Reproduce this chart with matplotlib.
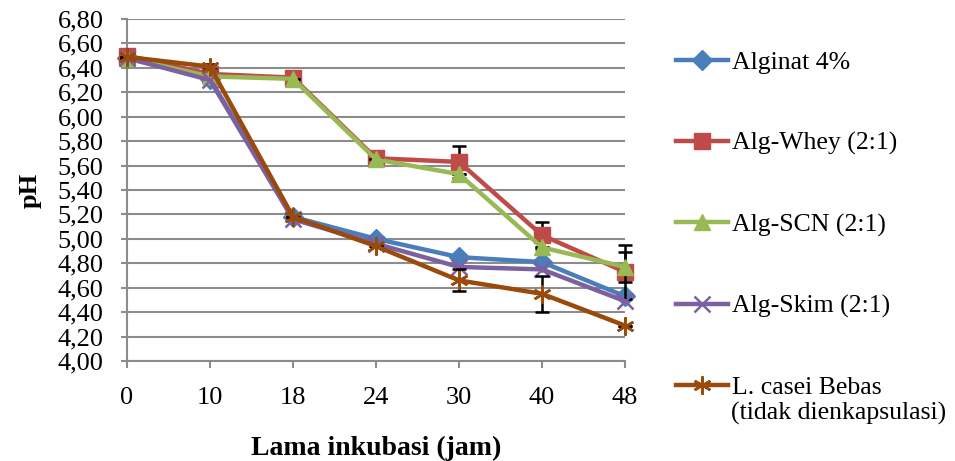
"""
pH selama inkubasi untuk L. casei terenkapsulasi dan bebas.
Output: out.png
"""

import matplotlib.pyplot as plt
import numpy as np

# Data
waktu = ["0", "10", "18", "24", "30", "40", "48"]

alginat = [6.48, 6.31, 5.18, 5.00, 4.85, 4.81, 4.53]
alg_whey = [6.50, 6.35, 6.32, 5.66, 5.63, 5.03, 4.73]
alg_scn = [6.48, 6.33, 6.31, 5.65, 5.53, 4.93, 4.77]
alg_skim = [6.48, 6.30, 5.16, 4.96, 4.77, 4.75, 4.49]
casei_bebas = [6.49, 6.41, 5.18, 4.94, 4.66, 4.55, 4.29]

err_whey = [0, 0, 0, 0, 0.13, 0.11, 0.22]
err_scn = [0, 0, 0, 0, 0, 0, 0.12]
err_bebas = [0, 0.02, 0, 0, 0.09, 0.15, 0]

labels = ["Alginat 4%", "Alg-Whey (2:1)", "Alg-SCN (2:1)", "Alg-Skim (2:1)",
          "L. casei Bebas"]
label_extra = "(tidak dienkapsulasi)"

COLORS = ["#4A7EBB", "#BE4B48", "#98B954", "#7D60A0", "#9A4A0B"]
MARKERS = ["D", "s", "^", "x", (6, 2, 0)]
MSIZE = [10, 11, 11, 11, 13]

FS = 19
plt.rcParams["font.family"] = ["Liberation Serif", "DejaVu Serif"]

fig = plt.figure(figsize=(9.55, 4.61), dpi=100)
ax = fig.add_axes([127 / 955, 1 - 361 / 461, (625 - 127) / 955, (361 - 19) / 461])

x = np.arange(len(waktu))
series = [alginat, alg_whey, alg_scn, alg_skim, casei_bebas]
errors = [None, err_whey, err_scn, None, err_bebas]

for i, y in enumerate(series):
    if errors[i] is not None:
        ax.errorbar(x, y, yerr=errors[i], fmt="none", ecolor="black",
                    elinewidth=1.8, capsize=5, capthick=1.8, zorder=2 + i,
                    clip_on=False)
    mew = 1.8 if i >= 3 else 1
    ax.plot(x, y, color=COLORS[i], lw=3.2, marker=MARKERS[i],
            markersize=MSIZE[i], markeredgewidth=mew,
            markeredgecolor=COLORS[i], label=labels[i], zorder=3 + i,
            clip_on=False)

# Axes
ax.set_xlim(0, 6)
ax.set_ylim(4.0, 6.8)
ax.set_xticks(x)
ax.set_xticklabels(waktu, fontsize=FS)
yt = np.arange(4.0, 6.81, 0.2)
ax.set_yticks(yt)
ax.set_yticklabels([f"{v:.2f}".replace(".", ",") for v in yt], fontsize=FS)

ax.grid(axis="y", color="#8C8C8C", lw=1.5)
ax.set_axisbelow(True)
for s in ["top", "right"]:
    ax.spines[s].set_visible(False)
for s in ["left", "bottom"]:
    ax.spines[s].set_color("#8C8C8C")
    ax.spines[s].set_linewidth(1.5)
ax.tick_params(axis="y", length=4, width=1.5, color="#8C8C8C", pad=13)
ax.tick_params(axis="x", length=5, width=1.5, color="#8C8C8C", pad=14)

ax.set_xlabel("Lama inkubasi (jam)", fontsize=20, fontweight="bold", labelpad=19)
ax.set_ylabel("pH", fontsize=FS, fontweight="bold", labelpad=11)

leg = fig.legend(loc="upper left", bbox_to_anchor=(666 / 955, 1 - 41 / 461),
                 frameon=False, fontsize=18.5, labelspacing=2.25, handlelength=2.0,
                 handletextpad=0.15, borderaxespad=0)
fig.text(731 / 955, 1 - 413 / 461, label_extra, fontsize=18.5,
         ha="left", va="center")

plt.savefig("out.png", dpi=100)
